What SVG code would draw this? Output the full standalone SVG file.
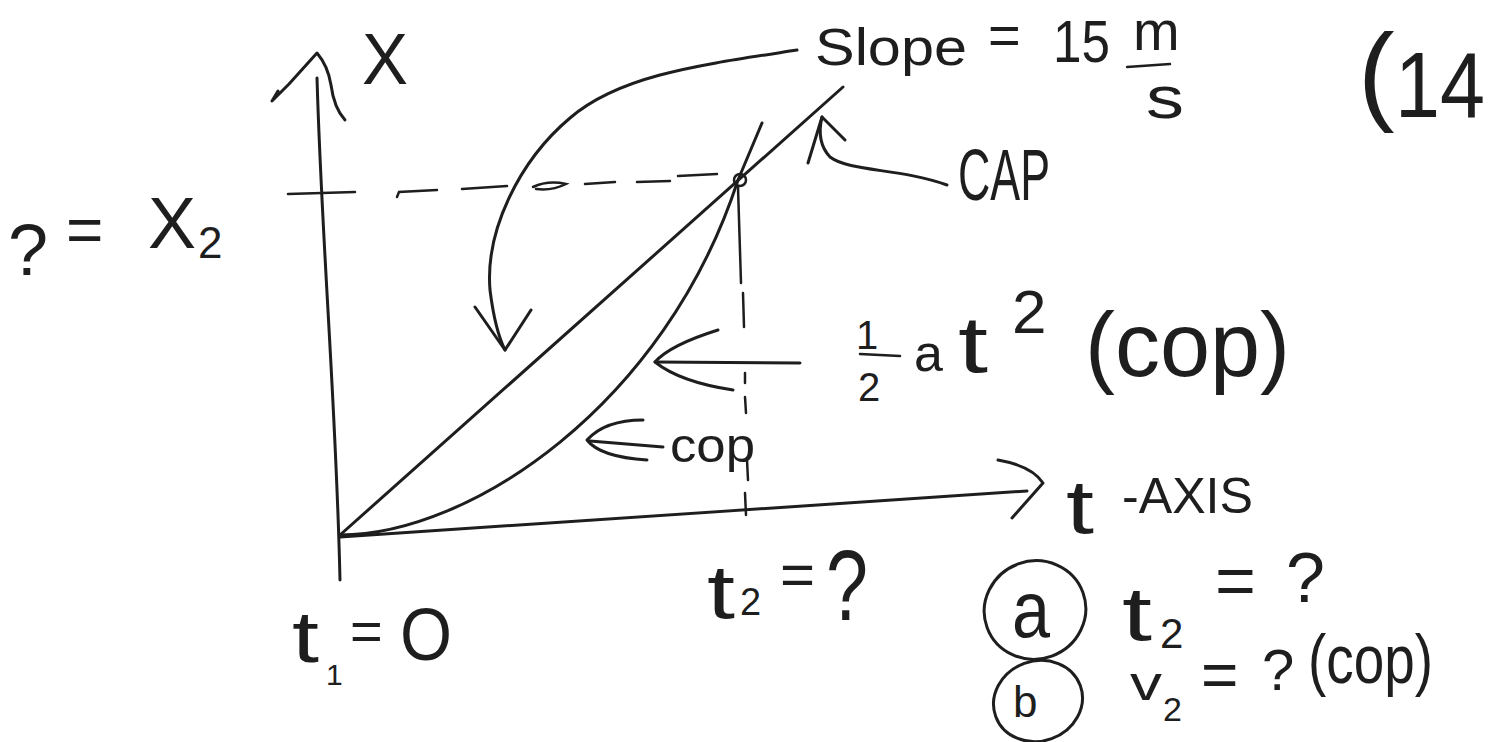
<svg xmlns="http://www.w3.org/2000/svg" width="1497" height="742" viewBox="0 0 1497 742">
<defs>
<style>
.ln{fill:none;stroke:#1e1e1e;stroke-width:3;stroke-linecap:round;stroke-linejoin:round}
.th{fill:none;stroke:#1e1e1e;stroke-width:2.5;stroke-linecap:round}
.tx{font-family:"Liberation Sans",Arial,sans-serif;fill:#1e1e1e}
</style>
</defs>
<rect width="1497" height="742" fill="#ffffff"/>
<g id="axes">
<path class="ln" d="M340,580 C 336,400 322,250 317,78"/>
<path class="ln" d="M278,91 L272,101 L289,84 L317,53 Q 328,66 331,85 Q 334,108 345,120"/>
<path class="ln" d="M340,537 L1027,491"/>
<path class="ln" d="M998,460 Q 1032,466 1043,483 L1012,518"/>
</g>
<g id="guides">
<path class="th" d="M288,194 L355,192"/>
<path class="th" d="M397,197 L399,192 L437,190"/>
<path class="th" d="M462,189 L507,186"/>
<path class="th" d="M533,187 Q 548,180 566,184 Q 552,191 536,189"/>
<path class="th" d="M585,184 L615,182"/>
<path class="th" d="M637,182 L670,181"/>
<path class="th" d="M678,176 L717,174"/>
<circle class="th" cx="740" cy="180" r="6"/>
<path class="th" d="M738,187 L741,283"/>
<path class="th" d="M743,293 L744,327"/>
<path class="th" d="M745,373 L745,383"/>
<path class="th" d="M745,397 L746,413"/>
<path class="th" d="M747,460 L748,480"/>
<path class="th" d="M745,493 L746,515"/>
</g>
<g id="curves">
<path class="ln" d="M340,535 L843,87"/>
<path class="ln" d="M340,535 C 470,535 665,405 738,180 L762,123"/>
</g>
<g id="connectors">
<path class="ln" d="M797,50 C 700,65 620,75 570,118 C 520,160 485,230 490,290 Q 495,330 505,350"/>
<path class="ln" d="M475,307 L505,350 L531,310"/>
<path class="ln" d="M947,185 C 900,168 850,172 830,157 Q 816,142 822,117"/>
<path class="ln" d="M808,163 L822,117 L845,140"/>
<path class="ln" d="M800,363 L655,362"/>
<path class="ln" d="M718,330 Q 670,345 655,362 Q 680,382 733,390"/>
<path class="ln" d="M663,447 L590,441"/>
<path class="ln" d="M643,420 Q 605,420 587,440 Q 600,457 647,460"/>
<path class="th" d="M1127,67 L1170,64"/>
<path class="th" d="M860,354 L900,356"/>
<ellipse class="ln" cx="1035" cy="610" rx="51" ry="49" transform="rotate(-20 1035 610)"/>
<ellipse class="ln" cx="1038" cy="701" rx="45" ry="40" transform="rotate(-20 1038 701)"/>
</g>
<g id="labels">
<text class="tx" x="362" y="84" font-size="72" textLength="46" lengthAdjust="spacingAndGlyphs">X</text>
<text class="tx" x="8" y="275" font-size="72">?</text>
<text class="tx" x="66" y="252" font-size="64">=</text>
<text class="tx" x="148" y="248" font-size="72">X</text>
<text class="tx" x="198" y="258" font-size="44">2</text>
<text class="tx" x="815" y="65" font-size="52" textLength="152" lengthAdjust="spacingAndGlyphs">Slope</text>
<text class="tx" x="988" y="54" font-size="56">=</text>
<text class="tx" x="1053" y="62" font-size="60" textLength="57" lengthAdjust="spacingAndGlyphs">15</text>
<text class="tx" x="1133" y="50" font-size="56">m</text>
<text class="tx" x="1146" y="118" font-size="60" textLength="38" lengthAdjust="spacingAndGlyphs">s</text>
<text class="tx" x="1358" y="110" font-size="110">(</text>
<text class="tx" x="1395" y="117" font-size="92" textLength="90" lengthAdjust="spacingAndGlyphs">14</text>
<text class="tx" x="958" y="200" font-size="72" textLength="92" lengthAdjust="spacingAndGlyphs">CAP</text>
<text class="tx" x="856" y="349" font-size="40">1</text>
<text class="tx" x="858" y="401" font-size="40">2</text>
<text class="tx" x="914" y="371" font-size="52">a</text>
<text class="tx" x="958" y="372" font-size="80" textLength="30" lengthAdjust="spacingAndGlyphs">t</text>
<text class="tx" x="1012" y="333" font-size="62">2</text>
<text class="tx" x="1085" y="376" font-size="90" textLength="205" lengthAdjust="spacingAndGlyphs">(cop)</text>
<text class="tx" x="670" y="462" font-size="48" textLength="85" lengthAdjust="spacingAndGlyphs">cop</text>
<text class="tx" x="1066" y="533" font-size="76" textLength="28" lengthAdjust="spacingAndGlyphs">t</text>
<text class="tx" x="1122" y="513" font-size="50" textLength="131" lengthAdjust="spacingAndGlyphs">-AXIS</text>
<text class="tx" x="707" y="618" font-size="76" textLength="28" lengthAdjust="spacingAndGlyphs">t</text>
<text class="tx" x="740" y="615" font-size="38">2</text>
<text class="tx" x="780" y="595" font-size="60">=</text>
<text class="tx" x="826" y="620" font-size="100" textLength="42" lengthAdjust="spacingAndGlyphs">?</text>
<text class="tx" x="292" y="662" font-size="72" textLength="27" lengthAdjust="spacingAndGlyphs">t</text>
<text class="tx" x="326" y="685" font-size="30">1</text>
<text class="tx" x="350" y="650" font-size="56">=</text>
<text class="tx" x="400" y="660" font-size="74" textLength="52" lengthAdjust="spacingAndGlyphs">O</text>
<text class="tx" x="1012" y="637" font-size="80" textLength="38" lengthAdjust="spacingAndGlyphs">a</text>
<text class="tx" x="1122" y="640" font-size="76" textLength="30" lengthAdjust="spacingAndGlyphs">t</text>
<text class="tx" x="1160" y="648" font-size="42">2</text>
<text class="tx" x="1215" y="605" font-size="70">=</text>
<text class="tx" x="1286" y="602" font-size="70">?</text>
<text class="tx" x="1013" y="717" font-size="44">b</text>
<text class="tx" x="1130" y="700" font-size="48" textLength="32" lengthAdjust="spacingAndGlyphs">v</text>
<text class="tx" x="1163" y="721" font-size="34">2</text>
<text class="tx" x="1201" y="697" font-size="64">=</text>
<text class="tx" x="1262" y="690" font-size="58">?</text>
<text class="tx" x="1308" y="683" font-size="68" textLength="125" lengthAdjust="spacingAndGlyphs">(cop)</text>
</g>
</svg>
